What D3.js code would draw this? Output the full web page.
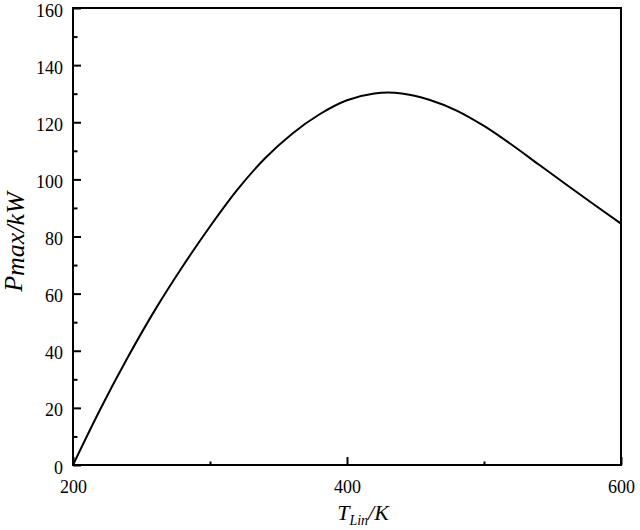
<!DOCTYPE html>
<html>
<head>
<meta charset="utf-8">
<script src="https://cdn.jsdelivr.net/npm/d3@7"></script>
<style>
  body { margin: 0; background: #fff; }
  svg { display: block; font-family: "Liberation Serif", "Times New Roman", serif; }
  .axis path { display: none; }
  .axis line { stroke: #000; stroke-width: 2; }
  .axis text { font-size: 18px; fill: #000; }
</style>
</head>
<body>
<div id="viz"></div>
<script>
// temperature T_Lin (K) and max power P_max (kW)
const temps = [200, 220, 240, 260, 280, 300, 320, 340, 360, 380, 400, 420, 430, 440, 460, 480, 500, 520, 540, 560, 580, 600];
const power = [0, 19.6, 37.7, 54.4, 69.5, 83.5, 96.4, 107.3, 116.0, 122.8, 127.7, 130.1, 130.4, 130.1, 127.9, 124.1, 118.7, 112.2, 105.2, 98.2, 91.3, 84.5];

const xMajor = [200, 400, 600];
const xMinor = [300, 500];
const yMajor = [0, 20, 40, 60, 80, 100, 120, 140, 160];
const yMinor = [10, 30, 50, 70, 90, 110, 130, 150];

const width = 640;
const height = 530;
const margin = { left: 73, right: 19, top: 8, bottom: 65 };

const svg = d3.select("#viz").append("svg")
    .attr("width", width)
    .attr("height", height);

const x = d3.scaleLinear()
    .domain([200, 600])
    .range([margin.left, width - margin.right]);

const y = d3.scaleLinear()
    .domain([0, 160])
    .range([height - margin.bottom, margin.top]);

// minor ticks (inward, no labels)
svg.append("g")
    .attr("class", "axis")
    .attr("transform", `translate(${margin.left},0)`)
    .call(d3.axisLeft(y).tickValues(yMinor).tickSize(-4.5).tickFormat(""));

svg.append("g")
    .attr("class", "axis")
    .attr("transform", `translate(0,${height - margin.bottom})`)
    .call(d3.axisBottom(x).tickValues(xMinor).tickSize(-3.5).tickFormat(""));

// major ticks with labels
const yAxis = svg.append("g")
    .attr("class", "axis")
    .attr("transform", `translate(${margin.left},0)`)
    .call(d3.axisLeft(y).tickValues(yMajor).tickSize(-8).tickPadding(10).tickFormat(d3.format("d")))
    .attr("font-family", null);
yAxis.selectAll("text").attr("dy", "0.45em");

const xAxis = svg.append("g")
    .attr("class", "axis")
    .attr("transform", `translate(0,${height - margin.bottom})`)
    .call(d3.axisBottom(x).tickValues(xMajor).tickSize(-8).tickPadding(15).tickFormat(d3.format("d")))
    .attr("font-family", null);
xAxis.selectAll("text").attr("dy", "0.71em");

// frame
svg.append("rect")
    .attr("x", margin.left)
    .attr("y", margin.top)
    .attr("width", width - margin.left - margin.right)
    .attr("height", height - margin.top - margin.bottom)
    .attr("fill", "none")
    .attr("stroke", "#000")
    .attr("stroke-width", 2);

// curve
const line = d3.line()
    .x((d, i) => x(temps[i]))
    .y(d => y(d))
    .curve(d3.curveMonotoneX);

svg.append("path")
    .datum(power)
    .attr("fill", "none")
    .attr("stroke", "#000")
    .attr("stroke-width", 2)
    .attr("d", line);

// axis titles
const xTitle = svg.append("text")
    .attr("x", 363)
    .attr("y", 520)
    .attr("text-anchor", "middle")
    .style("font-style", "italic")
    .style("font-size", "22px");
xTitle.append("tspan").text("T");
xTitle.append("tspan").attr("dy", 5).style("font-size", "14px").text("Lin");
xTitle.append("tspan").attr("dy", -5).text("/K");

const yTitle = svg.append("text")
    .attr("transform", "translate(22,242) rotate(-90)")
    .attr("text-anchor", "middle")
    .style("font-style", "italic")
    .style("font-size", "26px");
yTitle.append("tspan").text("P");
yTitle.append("tspan").attr("dy", 2).text("max/kW");
</script>
</body>
</html>
